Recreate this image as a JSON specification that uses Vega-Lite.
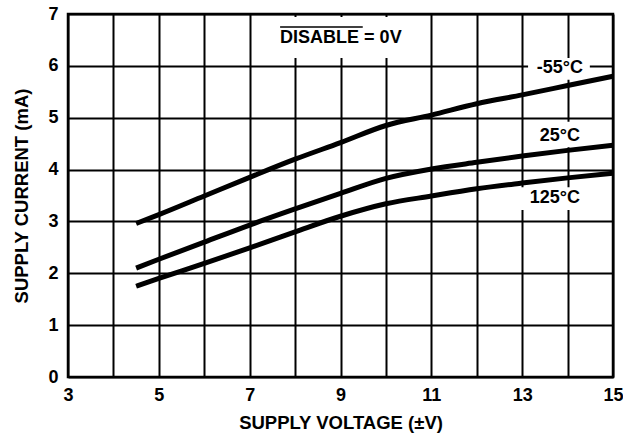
{
  "$schema": "https://vega.github.io/schema/vega-lite/v6.json",
  "width": 545,
  "height": 363,
  "autosize": "none",
  "padding": {"left": 68, "top": 14, "right": 10, "bottom": 59},
  "background": "white",
  "config": {
    "view": {"stroke": "black", "strokeWidth": 2.5},
    "font": "Liberation Sans",
    "axisX": {
      "titleFontSize": 18.5, "titleFontWeight": "bold", "titleColor": "black", "titlePadding": 9,
      "labelFontSize": 18, "labelFontWeight": "bold", "labelColor": "black", "labelPadding": 9,
      "labelFlush": false, "labelOverlap": false,
      "grid": true, "gridColor": "black", "gridWidth": 2, "gridOpacity": 1,
      "ticks": false, "domain": false
    },
    "axisY": {
      "titleFontSize": 18.5, "titleFontWeight": "bold", "titleColor": "black", "titlePadding": 16,
      "labelFontSize": 18, "labelFontWeight": "bold", "labelColor": "black", "labelPadding": 10,
      "labelFlush": false, "labelOverlap": false,
      "grid": true, "gridColor": "black", "gridWidth": 2, "gridOpacity": 1,
      "ticks": false, "domain": false
    }
  },
  "datasets": {
    "curves": [
      {"series": "-55°C", "v": 4.5, "i": 2.96},
      {"series": "-55°C", "v": 5, "i": 3.13},
      {"series": "-55°C", "v": 6, "i": 3.49},
      {"series": "-55°C", "v": 7, "i": 3.85},
      {"series": "-55°C", "v": 8, "i": 4.2},
      {"series": "-55°C", "v": 9, "i": 4.52},
      {"series": "-55°C", "v": 10, "i": 4.85},
      {"series": "-55°C", "v": 11, "i": 5.05},
      {"series": "-55°C", "v": 12, "i": 5.27},
      {"series": "-55°C", "v": 13, "i": 5.44},
      {"series": "-55°C", "v": 14, "i": 5.62},
      {"series": "-55°C", "v": 15, "i": 5.8},
      {"series": "25°C", "v": 4.5, "i": 2.1},
      {"series": "25°C", "v": 5, "i": 2.27},
      {"series": "25°C", "v": 6, "i": 2.6},
      {"series": "25°C", "v": 7, "i": 2.93},
      {"series": "25°C", "v": 8, "i": 3.24},
      {"series": "25°C", "v": 9, "i": 3.54},
      {"series": "25°C", "v": 10, "i": 3.83},
      {"series": "25°C", "v": 11, "i": 4.01},
      {"series": "25°C", "v": 12, "i": 4.14},
      {"series": "25°C", "v": 13, "i": 4.26},
      {"series": "25°C", "v": 14, "i": 4.37},
      {"series": "25°C", "v": 15, "i": 4.47},
      {"series": "125°C", "v": 4.5, "i": 1.75},
      {"series": "125°C", "v": 5, "i": 1.9},
      {"series": "125°C", "v": 6, "i": 2.19},
      {"series": "125°C", "v": 7, "i": 2.49},
      {"series": "125°C", "v": 8, "i": 2.8},
      {"series": "125°C", "v": 9, "i": 3.1},
      {"series": "125°C", "v": 10, "i": 3.34},
      {"series": "125°C", "v": 11, "i": 3.49},
      {"series": "125°C", "v": 12, "i": 3.63},
      {"series": "125°C", "v": 13, "i": 3.74},
      {"series": "125°C", "v": 14, "i": 3.84},
      {"series": "125°C", "v": 15, "i": 3.93}
    ],
    "boxes": [
      {"name": "disable", "x1": 7.5, "x2": 10.5, "y1": 6.15, "y2": 6.94},
      {"name": "-55°C", "x1": 13.13, "x2": 14.49, "y1": 5.73, "y2": 6.15},
      {"name": "25°C", "x1": 13.3, "x2": 14.4, "y1": 4.43, "y2": 4.92},
      {"name": "125°C", "x1": 12.9, "x2": 14.5, "y1": 3.22, "y2": 3.66}
    ],
    "labels": [
      {"text": "-55°C", "x": 13.83, "y": 5.96},
      {"text": "25°C", "x": 13.83, "y": 4.65},
      {"text": "125°C", "x": 13.72, "y": 3.45}
    ],
    "disable": [
      {"text": "DISABLE = 0V", "x": 7.67, "y": 6.53, "x2": 9.49, "yo": 6.75}
    ]
  },
  "layer": [
    {
      "data": {"name": "boxes"},
      "mark": {"type": "rect", "fill": "white"},
      "encoding": {
        "x": {
          "field": "x1", "type": "quantitative", "title": "SUPPLY VOLTAGE (±V)",
          "scale": {"domain": [3, 15], "nice": false, "zero": false},
          "axis": {
            "values": [3, 4, 5, 6, 7, 8, 9, 10, 11, 12, 13, 14, 15],
            "labelExpr": "datum.value % 2 == 1 ? datum.label : ''"
          }
        },
        "x2": {"field": "x2"},
        "y": {
          "field": "y1", "type": "quantitative", "title": "SUPPLY CURRENT (mA)",
          "scale": {"domain": [0, 7], "nice": false},
          "axis": {"values": [0, 1, 2, 3, 4, 5, 6, 7]}
        },
        "y2": {"field": "y2"}
      }
    },
    {
      "data": {"name": "curves"},
      "mark": {"type": "line", "stroke": "black", "strokeWidth": 5, "interpolate": "monotone"},
      "encoding": {
        "x": {"field": "v", "type": "quantitative", "title": "SUPPLY VOLTAGE (±V)",
          "axis": {
            "values": [3, 4, 5, 6, 7, 8, 9, 10, 11, 12, 13, 14, 15],
            "labelExpr": "datum.value % 2 == 1 ? datum.label : ''"
          }},
        "y": {"field": "i", "type": "quantitative", "title": "SUPPLY CURRENT (mA)",
          "axis": {"values": [0, 1, 2, 3, 4, 5, 6, 7]}},
        "detail": {"field": "series", "type": "nominal"}
      }
    },
    {
      "data": {"name": "labels"},
      "mark": {"type": "text", "fontSize": 18, "fontWeight": "bold", "fill": "black", "align": "center", "baseline": "middle"},
      "encoding": {
        "x": {"field": "x", "type": "quantitative", "title": "SUPPLY VOLTAGE (±V)",
          "axis": {
            "values": [3, 4, 5, 6, 7, 8, 9, 10, 11, 12, 13, 14, 15],
            "labelExpr": "datum.value % 2 == 1 ? datum.label : ''"
          }},
        "y": {"field": "y", "type": "quantitative", "title": "SUPPLY CURRENT (mA)",
          "axis": {"values": [0, 1, 2, 3, 4, 5, 6, 7]}},
        "text": {"field": "text"}
      }
    },
    {
      "data": {"name": "disable"},
      "mark": {"type": "text", "fontSize": 18, "fontWeight": "bold", "fill": "black", "align": "left", "baseline": "middle"},
      "encoding": {
        "x": {"field": "x", "type": "quantitative", "title": "SUPPLY VOLTAGE (±V)",
          "axis": {
            "values": [3, 4, 5, 6, 7, 8, 9, 10, 11, 12, 13, 14, 15],
            "labelExpr": "datum.value % 2 == 1 ? datum.label : ''"
          }},
        "y": {"field": "y", "type": "quantitative", "title": "SUPPLY CURRENT (mA)",
          "axis": {"values": [0, 1, 2, 3, 4, 5, 6, 7]}},
        "text": {"field": "text"}
      }
    },
    {
      "data": {"name": "disable"},
      "mark": {"type": "rule", "stroke": "black", "strokeWidth": 1.5},
      "encoding": {
        "x": {"field": "x", "type": "quantitative", "title": "SUPPLY VOLTAGE (±V)",
          "axis": {
            "values": [3, 4, 5, 6, 7, 8, 9, 10, 11, 12, 13, 14, 15],
            "labelExpr": "datum.value % 2 == 1 ? datum.label : ''"
          }},
        "x2": {"field": "x2"},
        "y": {"field": "yo", "type": "quantitative", "title": "SUPPLY CURRENT (mA)",
          "axis": {"values": [0, 1, 2, 3, 4, 5, 6, 7]}}
      }
    }
  ]
}
